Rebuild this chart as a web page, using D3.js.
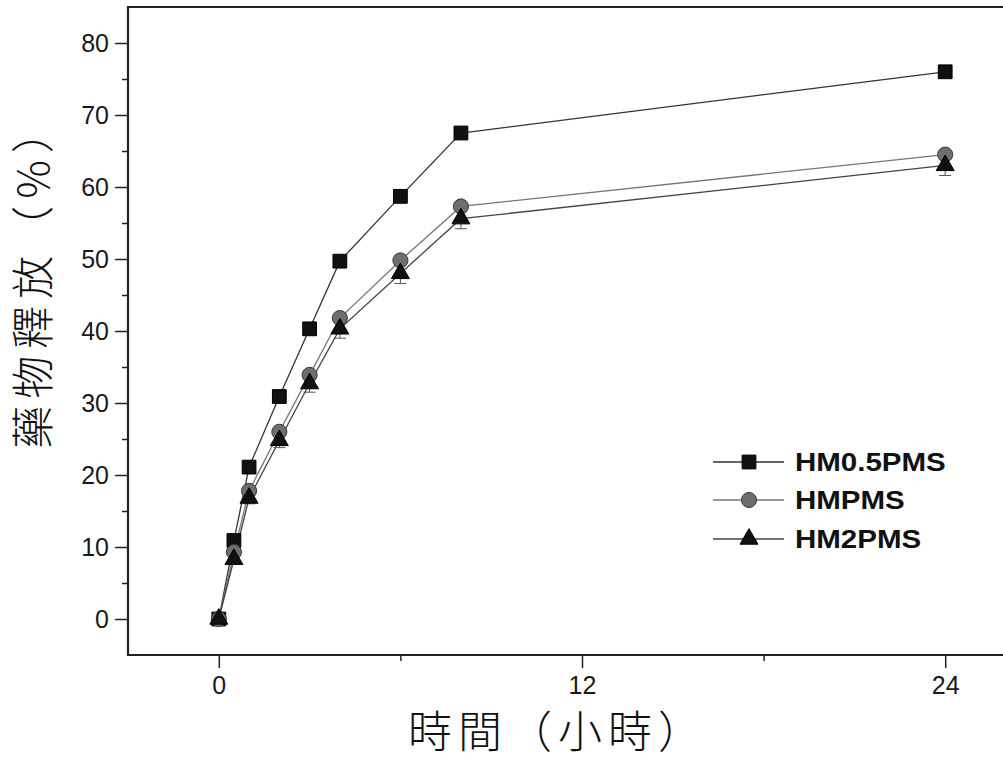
<!DOCTYPE html>
<html>
<head>
<meta charset="utf-8">
<script src="https://cdn.jsdelivr.net/npm/d3@7"></script>
<style>
  body { margin: 0; background: #fff; }
  svg { display: block; }
</style>
</head>
<body>
<svg id="chart" width="1003" height="762"></svg>
<script>
// time points (hours)
const hours = [0, 0.5, 1, 2, 3, 4, 6, 8, 24];

// release (%) per formulation
const hm05pms = [0, 10.9, 21.1, 30.9, 40.3, 49.7, 58.7, 67.5, 76.0];
const hmpms   = [0, 9.3, 17.8, 26.0, 33.9, 41.8, 49.8, 57.3, 64.5];
const hm2pms  = [0, 8.3, 16.8, 24.8, 32.7, 40.3, 48.0, 55.6, 63.0];
const hm2err  = [0, 0.6, 0.8, 1.0, 1.2, 1.3, 1.4, 1.4, 1.4];

const seriesNames = ["HM0.5PMS", "HMPMS", "HM2PMS"];

const xMajor = [0, 12, 24];
const xMinor = [6, 18];
const yMajor = [0, 10, 20, 30, 40, 50, 60, 70, 80];
const yMinor = [5, 15, 25, 35, 45, 55, 65, 75];

const xLabel = "時間（小時）";
const yLabel = "藥物釋放（%）";

const svg = d3.select("#chart");

const plotLeft = 128, plotTop = 7, plotBottom = 655;

const x = d3.scaleLinear().domain([-3, 27]).range([plotLeft, 1036]);
const y = d3.scaleLinear().domain([-5, 85]).range([plotBottom, plotTop]);

// axes
const tickFont = g => g.selectAll("text")
  .attr("font-family", "'Liberation Sans', Arial, sans-serif")
  .attr("font-size", 25)
  .attr("fill", "#1a1a1a");

svg.append("g")
  .attr("transform", `translate(${plotLeft},0)`)
  .call(d3.axisLeft(y).tickValues(yMinor).tickSize(6).tickFormat("").tickSizeOuter(0))
  .call(g => g.select(".domain").remove())
  .call(g => g.selectAll("line").attr("stroke", "#222").attr("stroke-width", 1.5));

svg.append("g")
  .attr("transform", `translate(${plotLeft},0)`)
  .call(d3.axisLeft(y).tickValues(yMajor).tickSize(13).tickPadding(6).tickSizeOuter(0))
  .call(g => g.select(".domain").remove())
  .call(g => g.selectAll("line").attr("stroke", "#222").attr("stroke-width", 1.5))
  .call(tickFont);

svg.append("g")
  .attr("transform", `translate(0,${plotBottom})`)
  .call(d3.axisBottom(x).tickValues(xMinor).tickSize(6).tickFormat("").tickSizeOuter(0))
  .call(g => g.select(".domain").remove())
  .call(g => g.selectAll("line").attr("stroke", "#222").attr("stroke-width", 1.5));

svg.append("g")
  .attr("transform", `translate(0,${plotBottom})`)
  .call(d3.axisBottom(x).tickValues(xMajor).tickSize(13).tickPadding(8).tickSizeOuter(0))
  .call(g => g.select(".domain").remove())
  .call(g => g.selectAll("line").attr("stroke", "#222").attr("stroke-width", 1.5))
  .call(tickFont);

// frame: left, bottom, top
svg.append("path")
  .attr("d", `M1003,${plotTop}H${plotLeft}V${plotBottom}H1003`)
  .attr("fill", "none")
  .attr("stroke", "#222")
  .attr("stroke-width", 2.2);

// axis titles
svg.append("text")
  .attr("x", 558)
  .attr("y", 748)
  .attr("text-anchor", "middle")
  .attr("font-family", "'Noto Sans CJK TC', sans-serif")
  .attr("font-weight", 300)
  .attr("font-size", 44)
  .attr("letter-spacing", 6)
  .attr("fill", "#111")
  .text(xLabel);

svg.append("text")
  .attr("transform", "translate(49,276) rotate(-90)")
  .attr("text-anchor", "middle")
  .attr("font-family", "'Noto Sans CJK TC', sans-serif")
  .attr("font-weight", 300)
  .attr("font-size", 43)
  .attr("letter-spacing", 7)
  .attr("fill", "#111")
  .text(yLabel);

// series
const styles = [
  { vals: hm05pms, sym: d3.symbolSquare, size: 190, fill: "#111", stroke: "#000", line: "#333" },
  { vals: hmpms, sym: d3.symbolCircle, size: 180, fill: "#6e6e6e", stroke: "#3a3a3a", line: "#777" },
  { vals: hm2pms, sym: d3.symbolTriangle, size: 140, fill: "#111", stroke: "#000", line: "#444" }
];

const line = d3.line().x(d => x(d[0])).y(d => y(d[1]));

styles.forEach((s, i) => {
  const pts = hours.map((h, j) => [h, s.vals[j]]);
  svg.append("path")
    .datum(pts)
    .attr("d", line)
    .attr("fill", "none")
    .attr("stroke", s.line)
    .attr("stroke-width", 1.3);
});

// error bars for HM2PMS
const eb = svg.append("g").attr("stroke", "#555").attr("stroke-width", 1);
hours.forEach((h, j) => {
  if (!hm2err[j]) return;
  eb.append("line")
    .attr("x1", x(h)).attr("x2", x(h))
    .attr("y1", y(hm2pms[j] - hm2err[j])).attr("y2", y(hm2pms[j] + hm2err[j]));
  eb.append("line")
    .attr("x1", x(h) - 6).attr("x2", x(h) + 6)
    .attr("y1", y(hm2pms[j] - hm2err[j])).attr("y2", y(hm2pms[j] - hm2err[j]));
});

styles.forEach(s => {
  svg.append("g")
    .selectAll("path")
    .data(hours.map((h, j) => [h, s.vals[j]]))
    .join("path")
    .attr("transform", d => `translate(${x(d[0])},${y(d[1])})`)
    .attr("d", d3.symbol().type(s.sym).size(s.size))
    .attr("fill", s.fill)
    .attr("stroke", s.stroke)
    .attr("stroke-width", 1);
});

// legend
const legendY = [462, 500, 539];
seriesNames.forEach((name, i) => {
  const s = styles[i];
  const g = svg.append("g").attr("transform", `translate(0,${legendY[i]})`);
  g.append("line")
    .attr("x1", 713).attr("x2", 784)
    .attr("stroke", s.line).attr("stroke-width", 1.3);
  g.append("path")
    .attr("transform", "translate(749,0)")
    .attr("d", d3.symbol().type(s.sym).size(s.size))
    .attr("fill", s.fill)
    .attr("stroke", s.stroke);
  g.append("text")
    .attr("transform", "translate(795,9) scale(1.18,1)")
    .attr("font-family", "'Liberation Sans', Arial, sans-serif")
    .attr("font-weight", "bold")
    .attr("font-size", 25)
    .attr("fill", "#111")
    .text(name);
});
</script>
</body>
</html>
